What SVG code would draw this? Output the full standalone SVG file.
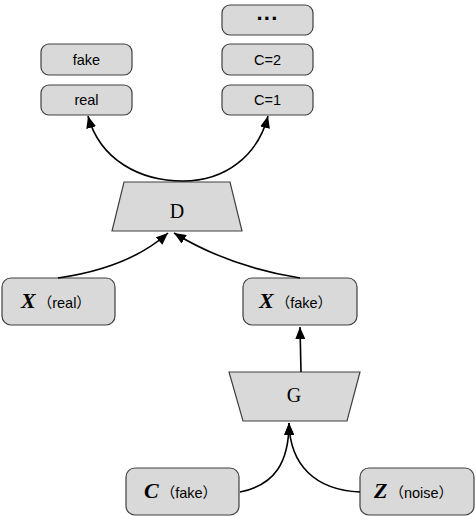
<svg xmlns="http://www.w3.org/2000/svg" width="476" height="517" viewBox="0 0 476 517">
<defs>
<style>
.box{fill:#d9d9d9;stroke:#404040;stroke-width:1.2}
.lbl{font-family:"Liberation Sans","Noto Sans",sans-serif;font-size:14.5px;fill:#000;text-anchor:middle}
.big{font-family:"Liberation Serif",serif;font-size:20px;fill:#000;text-anchor:middle}
.var{font-family:"Liberation Serif",serif;font-size:22px;font-weight:bold;font-style:italic}
.sub{font-family:"Liberation Sans","Noto Sans CJK SC",sans-serif;font-size:14.5px}
.edge{fill:none;stroke:#000;stroke-width:1.6;marker-end:url(#ah)}
</style>
<marker id="ah" viewBox="0 0 12 10" refX="12" refY="5" markerWidth="12" markerHeight="10" markerUnits="userSpaceOnUse" orient="auto">
<path d="M0,0 L12,5 L0,10 z" fill="#000"/>
</marker>
</defs>
<rect width="476" height="517" fill="#fff"/>
<g id="n-fake"><rect class="box" x="41" y="44" width="91" height="31" rx="8"/><text class="lbl" x="86.5" y="65">fake</text></g>
<g id="n-real"><rect class="box" x="41" y="85" width="91" height="30" rx="8"/><text class="lbl" x="86.5" y="105">real</text></g>
<g id="n-dots"><rect class="box" x="222" y="5" width="91" height="30" rx="8"/><text class="lbl" x="267.5" y="26" style="font-weight:bold;font-size:22px">···</text></g>
<g id="n-c2"><rect class="box" x="222" y="44" width="91" height="31" rx="8"/><text class="lbl" x="267.5" y="65">C=2</text></g>
<g id="n-c1"><rect class="box" x="222" y="85" width="91" height="30" rx="8"/><text class="lbl" x="267.5" y="105">C=1</text></g>
<g id="n-D"><polygon class="box" points="124,182 230,182 242,231 112,231"/><text class="big" x="177" y="218">D</text></g>
<g id="n-xreal"><rect class="box" x="2" y="278" width="113" height="47" rx="9"/><text x="21" y="308"><tspan class="var">X</tspan><tspan class="sub" dx="2">（real）</tspan></text></g>
<g id="n-xfake"><rect class="box" x="243" y="278" width="114" height="47" rx="9"/><text x="259" y="308"><tspan class="var">X</tspan><tspan class="sub" dx="2">（fake）</tspan></text></g>
<g id="n-G"><polygon class="box" points="229,372 360,372 347,421 243,421"/><text class="big" x="294" y="402">G</text></g>
<g id="n-cfake"><rect class="box" x="126" y="468" width="113" height="47" rx="9"/><text x="144" y="498"><tspan class="var">C</tspan><tspan class="sub" dx="2">（fake）</tspan></text></g>
<g id="n-znoise"><rect class="box" x="360" y="468" width="114" height="47" rx="9"/><text x="374" y="498"><tspan class="var">Z</tspan><tspan class="sub" dx="2">（noise）</tspan></text></g>
<g id="connectors">
<path class="edge" d="M 183 181 C 140 181, 100 160, 88 116"/>
<path class="edge" d="M 183 181 C 226 181, 258 155, 268 116"/>
<path class="edge" d="M 58 278 C 100 272, 140 258, 168 233"/>
<path class="edge" d="M 300 278 C 250 270, 210 255, 174 233"/>
<path class="edge" d="M 301 372 L 300 327"/>
<path class="edge" d="M 240 492 C 275 485, 289 462, 289 423"/>
<path class="edge" d="M 360 492 C 315 490, 290 465, 289 423"/>
</g>
</svg>
